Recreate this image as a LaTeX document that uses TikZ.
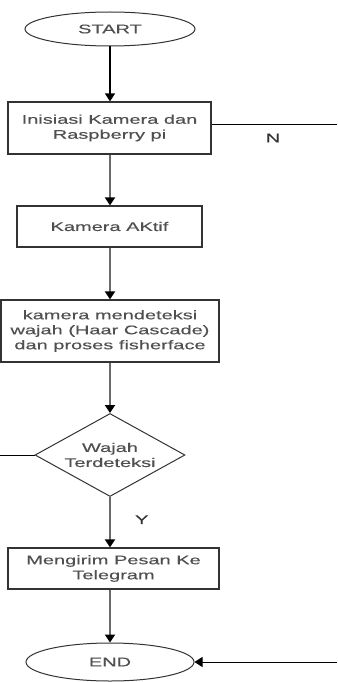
\documentclass[tikz,border=0pt]{standalone}
\usepackage{fontspec}
\setmainfont{Liberation Sans}
\newfontfamily\widefont[FakeStretch=1.6,FakeBold=0.4]{Liberation Sans}
\usetikzlibrary{shapes.geometric,arrows.meta}
\definecolor{txtgray}{HTML}{505050}
\definecolor{linegray}{HTML}{6A6A6A}
\definecolor{bordergray}{HTML}{333333}
\tikzset{
  base/.style={font=\widefont\fontsize{12.5}{15}\selectfont, text=txtgray, align=center, inner sep=0pt},
  terminal/.style={base, ellipse, draw=bordergray, line width=1pt},
  procbox/.style={base, rectangle, draw=bordergray, line width=1.2pt},
  decision/.style={base, diamond, draw=bordergray, line width=1pt, aspect=1.8},
  tip/.style={-{Triangle[width=10pt,length=8pt,color=black]}},
  grayflow/.style={tip, draw=linegray, line width=2.2pt},
  blackflow/.style={tip, draw=black, line width=1.4pt},
  thinline/.style={draw=black, line width=1pt},
  lbl/.style={font=\widefont\fontsize{12.5}{15}\selectfont, text=black!80, inner sep=0pt}
}
\begin{document}
\begin{tikzpicture}[x=1pt,y=-1pt]
\useasboundingbox (0,0) rectangle (337,682);
\node[terminal, minimum width=170pt, minimum height=34pt] (start) at (110,29) {START};
\node[procbox, minimum width=203pt, minimum height=52pt] (init) at (109.5,128) {Inisiasi Kamera dan\\Raspberry pi};
\node[procbox, minimum width=185pt, minimum height=41pt] (aktif) at (109.5,226.5) {Kamera AKtif};
\node[procbox, minimum width=218pt, minimum height=62pt] (deteksi) at (110,331) {kamera mendeteksi\\wajah (Haar Cascade)\\dan proses fisherface};
\node[decision, minimum width=150pt, minimum height=83pt] (wajah) at (110,455) {Wajah\\Terdeteksi};
\node[procbox, minimum width=211pt, minimum height=41pt] (kirim) at (113.5,568.5) {Mengirim Pesan Ke\\Telegram};
\node[terminal, minimum width=168pt, minimum height=38pt] (end) at (110,662) {END};

\coordinate (nright) at (337,125);
\coordinate (wleft) at (0,455);
\coordinate (eright) at (337,662);

\draw[blackflow] (start.south) -- (start.south |- init.north);
\draw[grayflow] (init.south -| 110,0) -- (110,0 |- aktif.north);
\draw[grayflow] (aktif.south -| 110,0) -- (110,0 |- deteksi.north);
\draw[grayflow] (deteksi.south) -- (wajah.north);
\draw[grayflow] (wajah.south) -- (110,0 |- kirim.north) node[lbl, pos=0.45, right=24pt] {Y};
\draw[grayflow] (kirim.south -| 110,0) -- (end.north);

\draw[thinline] (init.east |- nright) -- (nright);
\node[lbl] (n) at (273,138) {N};
\draw[thinline] (wajah.west) -- (wleft);
\draw[thinline, tip] (eright) -- (end.east);
\end{tikzpicture}
\end{document}
